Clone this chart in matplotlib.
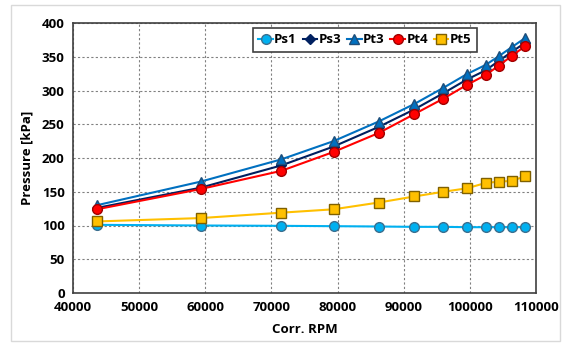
import matplotlib.pyplot as plt
from matplotlib.patches import Rectangle

# corrected speed and measured pressures
rpm = [43600, 59300, 71500, 79400, 86200, 91600, 96000, 99500, 102400, 104400, 106300, 108400]
ps1 = [101, 100, 99.5, 99, 98.5, 98, 98, 97.5, 97.5, 97.5, 97.5, 97.5]
ps3 = [126, 156, 189, 217, 246, 272, 296, 316, 330, 344, 357, 371]
pt3 = [130, 165, 198, 225, 254, 280, 304, 324, 338, 351, 364, 378]
pt4 = [124, 154, 181, 209, 237, 265, 288, 308, 323, 337, 351, 366]
pt5 = [106, 111, 119, 124, 134, 143, 150, 155, 163, 165, 166, 173]

plt.rcParams['font.family'] = ['Open Sans', 'DejaVu Sans']
plt.rcParams['font.weight'] = 'bold'

fig = plt.figure(figsize=(5.65, 3.43), dpi=100)
ax = fig.add_axes([73/565, 1 - 293/343, 463/565, 270/343])

# light chart border
fig.patches.append(Rectangle((11/565, 2/343), 549/565, 336/343, transform=fig.transFigure,
                             fill=False, edgecolor='#d9d9d9', linewidth=1))

ax.plot(rpm, ps1, '-o', color='#00B0F0', mfc='#00B0F0', mec='#3a6f8f', ms=7, lw=1.5, label='Ps1', zorder=3)
ax.plot(rpm, ps3, '-D', color='#002060', mfc='#002060', mec='#002060', ms=5, lw=1.5, label='Ps3', zorder=4)
ax.plot(rpm, pt3, '-^', color='#0070C0', mfc='#0070C0', mec='#1f4e79', ms=7, lw=1.5, label='Pt3', zorder=4)
ax.plot(rpm, pt4, '-o', color='#FF0000', mfc='#FF0000', mec='#a00000', ms=7, lw=1.5, label='Pt4', zorder=5)
ax.plot(rpm, pt5, '-s', color='#FFC000', mfc='#FFC000', mec='#7f6000', ms=7, lw=1.5, label='Pt5', zorder=3)

ax.set_xlim(40000, 110000)
ax.set_ylim(0, 400)
ax.set_xticks(range(40000, 110001, 10000))
ax.set_yticks(range(0, 401, 50))
ax.tick_params(labelsize=9.5, length=0, pad=6)
for lbl in ax.get_xticklabels() + ax.get_yticklabels():
    lbl.set_fontweight('bold')
ax.grid(True, linestyle=(0, (2, 2)), color='#808080', linewidth=0.8)
for s in ax.spines.values():
    s.set_color('#404040')
    s.set_linewidth(1.2)

ax.set_xlabel('Corr. RPM', fontsize=9.5, fontweight='bold', labelpad=6)
ax.set_ylabel('Pressure [kPa]', fontsize=9.5, fontweight='bold', labelpad=6)

leg = ax.legend(loc='upper left', bbox_to_anchor=(180/463, 1 - 5/270), ncol=5, fontsize=9.5,
                frameon=True, fancybox=False, edgecolor='#404040', framealpha=1,
                handlelength=1.1, handletextpad=0.1, columnspacing=0.45, borderpad=0.4,
                borderaxespad=0)
leg.get_frame().set_linewidth(1.2)
for t in leg.get_texts():
    t.set_fontweight('bold')

fig.savefig('out.png', dpi=100)
